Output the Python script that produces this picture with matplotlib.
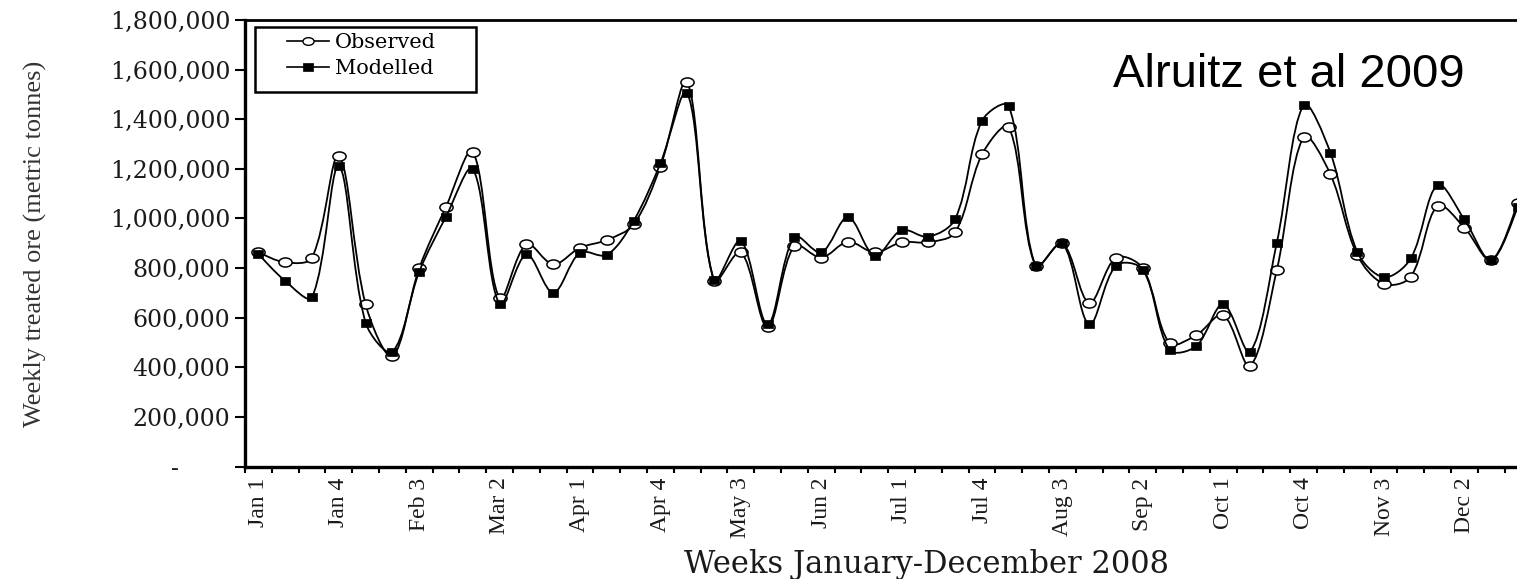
import numpy as np
import matplotlib
matplotlib.use("Agg")
import matplotlib.pyplot as plt
from matplotlib.path import Path
from matplotlib.patches import PathPatch, Rectangle
from matplotlib.lines import Line2D

# ---- data -------------------------------------------------------------
months = ["Jan", "Feb", "Mar", "Apr", "May", "Jun",
          "Jul", "Aug", "Sep", "Oct", "Nov", "Dec"]
weeks = [f"{m} {k}" for m in months for k in range(1, 5)]

observed = [863, 823, 842, 1253, 654, 445, 799, 1047, 1269, 678,
            896, 815, 882, 913, 976, 1209, 1551, 749, 865, 561,
            890, 842, 906, 863, 904, 904, 944, 1258, 1368, 808,
            900, 660, 842, 799, 497, 530, 611, 405, 792, 1329,
            1178, 853, 736, 765, 1051, 963, 832, 1063]
modelled = [856, 748, 682, 1211, 580, 463, 785, 1007, 1200, 654,
            855, 701, 862, 853, 990, 1222, 1507, 752, 910, 573,
            926, 863, 1005, 850, 953, 926, 998, 1394, 1453, 808,
            900, 573, 810, 794, 470, 486, 654, 463, 902, 1457,
            1265, 866, 763, 839, 1135, 996, 832, 1047]
observed = np.array(observed) * 1000.0
modelled = np.array(modelled) * 1000.0

yticks = list(range(0, 1800001, 200000))
label_every = 3

# ---- figure -----------------------------------------------------------
W, H = 1517, 579
fig = plt.figure(figsize=(W / 100, H / 100), dpi=100)
fig.patch.set_facecolor("white")

ax = fig.add_axes([245 / W, (H - 466.5) / H, 1286.4 / W, 446.5 / H])
ax.set_xlim(-0.5, len(weeks) - 0.5)
ax.set_ylim(0, 1800000)


def smooth_path(axes, xs, ys):
    """Smoothed Bezier path through the points, with tangent handles
    weighted by the neighbouring segment lengths in display space."""
    to_disp = axes.transData
    pts = to_disp.transform(np.column_stack([xs, ys]))
    n = len(pts)
    seg = np.hypot(*np.diff(pts, axis=0).T)
    tang = np.zeros_like(pts)
    for i in range(n):
        a = pts[i - 1] if i > 0 else pts[i]
        b = pts[i + 1] if i < n - 1 else pts[i]
        tang[i] = b - a
    verts = [pts[0]]
    for i in range(n - 1):
        d_prev = seg[i - 1] if i > 0 else seg[i]
        d_next = seg[i + 1] if i < n - 2 else seg[i]
        d = seg[i]
        c1 = pts[i] + tang[i] * d / (d_prev + d) / 3.0
        c2 = pts[i + 1] - tang[i + 1] * d / (d + d_next) / 3.0
        verts += [c1, c2, pts[i + 1]]
    verts = to_disp.inverted().transform(np.array(verts))
    codes = [Path.MOVETO] + [Path.CURVE4] * (3 * (n - 1))
    return Path(verts, codes)


# elongated marker shapes
circ = Path.unit_circle()
ellipse_marker = Path(circ.vertices * np.array([1.45, 1.0]), circ.codes)
rect_marker = Path([(-0.7, -0.5), (0.7, -0.5), (0.7, 0.5), (-0.7, 0.5),
                    (-0.7, -0.5)],
                   [Path.MOVETO, Path.LINETO, Path.LINETO, Path.LINETO,
                    Path.CLOSEPOLY])

x = np.arange(len(weeks))

ax.add_patch(PathPatch(smooth_path(ax, x, observed), fill=False,
                       edgecolor="black", lw=1.3, zorder=2))
ax.plot(x, observed, ls="none", marker=ellipse_marker, markersize=9.5,
        mfc="white", mec="black", mew=1.1, zorder=3)
ax.add_patch(PathPatch(smooth_path(ax, x, modelled), fill=False,
                       edgecolor="black", lw=1.3, zorder=4))
ax.plot(x, modelled, ls="none", marker=rect_marker, markersize=7.5,
        mfc="black", mec="black", mew=0.5, zorder=5)

# ---- axes styling -----------------------------------------------------
for side in ["left", "bottom"]:
    ax.spines[side].set_linewidth(2.4)
for side in ["top", "right"]:
    ax.spines[side].set_linewidth(2.0)

tick_font = dict(family="DejaVu Serif", size=17)
ax.set_yticks(yticks)
ax.set_yticklabels(["" if v == 0 else f"{v:,}" for v in yticks],
                   fontdict=tick_font, color="#1a1a1a")
ax.tick_params(axis="y", direction="out", length=7, width=1.5, pad=3.6)

ax.set_xticks(np.arange(-0.5, len(weeks), 1.0))
ax.set_xticklabels([])
ax.tick_params(axis="x", which="major", direction="out", length=4.3,
               width=1.5)
lab_pos = x[::label_every]
ax.set_xticks(lab_pos, minor=True)
ax.set_xticklabels([weeks[i] for i in lab_pos], minor=True, rotation=90,
                   family="Liberation Serif", fontsize=17, color="#1a1a1a")
ax.tick_params(axis="x", which="minor", length=0, pad=8)

# zero shown as a dash
fig.text(175 / W, 1 - 469 / H, "-", ha="center", va="center",
         family="DejaVu Serif", fontsize=17, color="#1a1a1a")

# ---- labels -----------------------------------------------------------
fig.text(35 / W, 1 - 244 / H, "Weekly treated ore (metric tonnes)",
         rotation=90, ha="center", va="center", family="Liberation Serif",
         fontsize=19, color="#333333")
fig.text(927 / W, 1 - 564 / H, "Weeks January-December 2008",
         ha="center", va="center", family="DejaVu Serif", fontsize=22,
         color="#1a1a1a")
fig.text(1113 / W, 1 - 87 / H, "Alruitz et al 2009", ha="left",
         va="baseline", family="Liberation Sans", fontsize=34, color="black")

# ---- legend -----------------------------------------------------------
handles = [
    Line2D([], [], color="black", lw=1.2, marker=ellipse_marker,
           markersize=8, mfc="white", mec="black", mew=1.0),
    Line2D([], [], color="black", lw=1.2, marker=rect_marker,
           markersize=7.5, mfc="black", mec="black", mew=0.5),
]
ax.legend(handles, ["Observed", "Modelled"], loc="upper left",
          bbox_to_anchor=(287 / W, 1 - 33 / H),
          bbox_transform=fig.transFigure, frameon=False, borderpad=0,
          borderaxespad=0, handlelength=2.0, handletextpad=0.3,
          labelspacing=0.35, prop=dict(family="DejaVu Serif", size=15))
fig.add_artist(Rectangle((255 / W, 1 - 92 / H), (476 - 255) / W,
                         (92 - 27) / H, transform=fig.transFigure,
                         fill=False, edgecolor="black", lw=1.8))

fig.savefig("out.png", dpi=100, facecolor="white")
